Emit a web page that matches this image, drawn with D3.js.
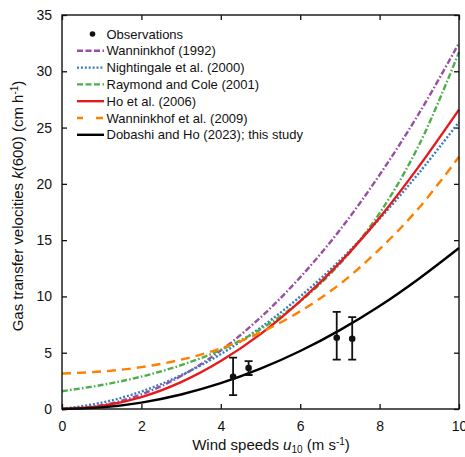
<!DOCTYPE html>
<meta charset="utf-8">
<style>
    body { margin: 0; background: white; }
    svg text {
        font-family: "Liberation Sans", Arial, Helvetica, sans-serif;
        fill: #111;
    }
</style>
<svg width="465" height="457"></svg>
<script src="https://d3js.org/d3.v7.min.js"></script>
<script>

    // wind speed grid (m s-1) for the model curves
    var windSpeeds = [0, 1, 2, 3, 4, 5, 6, 7, 8, 9, 10];

    // k(600) in cm h-1
    var wanninkhof1992 = [0, 0.33, 1.30, 2.93, 5.20, 8.13, 11.7, 15.9, 20.8, 26.3, 32.5];
    var nightingale2000 = [0, 0.56, 1.55, 3.00, 4.88, 7.22, 9.99, 13.2, 16.9, 21.0, 25.5];
    var raymondCole2001 = [1.58, 2.13, 2.88, 3.89, 5.25, 7.08, 9.56, 12.9, 17.4, 23.5, 31.7];
    var ho2006 = [0, 0.27, 1.06, 2.39, 4.26, 6.65, 9.58, 13.0, 17.0, 21.6, 26.6];
    var wanninkhof2009 = [3.15, 3.33, 3.72, 4.38, 5.38, 6.79, 8.68, 11.1, 14.2, 17.9, 22.4];
    var dobashiHo2023 = [0, 0.14, 0.57, 1.29, 2.29, 3.58, 5.15, 7.01, 9.15, 11.6, 14.3];

    // observations with error bars
    var obsWind = [4.31, 4.70, 6.92, 7.31];
    var obsK = [2.87, 3.64, 6.33, 6.24];
    var obsLow = [1.24, 3.02, 4.38, 4.38];
    var obsHigh = [4.56, 4.26, 8.62, 8.17];

    var xTicks = [0, 2, 4, 6, 8, 10];
    var yTicks = [0, 5, 10, 15, 20, 25, 30, 35];

    var series = [
        {name: "Wanninkhof (1992)", values: wanninkhof1992, color: "#984ea3", dash: "6,2.2,1.6,2.2", key: "6,2.5,6,2.5"},
        {name: "Nightingale et al. (2000)", values: nightingale2000, color: "#377eb8", dash: "2,1.9", key: "2,1.9"},
        {name: "Raymond and Cole (2001)", values: raymondCole2001, color: "#4daf4a", dash: "6,2.2,1.6,2.2", key: "6,2.5,6,2.5"},
        {name: "Ho et al. (2006)", values: ho2006, color: "#e41a1c", dash: null, key: null},
        {name: "Wanninkhof et al. (2009)", values: wanninkhof2009, color: "#ff7f00", dash: "9,6", key: "6,13,7"},
        {name: "Dobashi and Ho (2023); this study", values: dobashiHo2023, color: "#000000", dash: null, key: null}
    ];

    var svg = d3.select("svg"),
        margin = {top: 15, right: 6, bottom: 48, left: 62},
        width = +svg.attr("width") - margin.left - margin.right,
        height = +svg.attr("height") - margin.top - margin.bottom;

    var x = d3.scaleLinear().domain([0, 10]).range([0, width]),
        y = d3.scaleLinear().domain([0, 35]).range([height, 0]);

    var g = svg.append("g")
        .attr("transform", "translate(" + margin.left + "," + margin.top + ")");

    // axes, ticks pointing inward, mirrored on top and right
    function styleAxis(sel) {
        sel.select(".domain").remove();
        sel.selectAll(".tick line").attr("stroke", "#111").attr("stroke-width", 1.3);
        sel.selectAll(".tick text").style("font-size", "14px").attr("fill", "#111");
    }

    g.append("g")
        .attr("transform", "translate(0," + height + ")")
        .call(d3.axisBottom(x).tickValues(xTicks).tickSize(-5).tickPadding(12).tickFormat(d3.format("d")))
        .call(styleAxis);

    g.append("g")
        .call(d3.axisTop(x).tickValues(xTicks).tickSize(-5).tickFormat(""))
        .call(styleAxis);

    g.append("g")
        .call(d3.axisLeft(y).tickValues(yTicks).tickSize(-5).tickPadding(10).tickFormat(d3.format("d")))
        .call(styleAxis);

    g.append("g")
        .attr("transform", "translate(" + width + ",0)")
        .call(d3.axisRight(y).tickValues(yTicks).tickSize(-5).tickFormat(""))
        .call(styleAxis);

    // curves
    var line = d3.line()
        .x(function(d, i) { return x(windSpeeds[i]); })
        .y(function(d) { return y(d); })
        .curve(d3.curveCatmullRom.alpha(0.5));

    // observations
    var obs = obsWind.map(function(w, i) {
        return {u: w, k: obsK[i], lo: obsLow[i], hi: obsHigh[i]};
    });

    var obsG = g.append("g");
    obsG.selectAll(".err")
        .data(obs)
        .enter().append("path")
        .attr("fill", "none")
        .attr("stroke", "#111")
        .attr("stroke-width", 1.8)
        .attr("d", function(d) {
            var cx = x(d.u), cap = 4;
            return "M" + (cx - cap) + "," + y(d.hi) + "H" + (cx + cap) +
                   "M" + cx + "," + y(d.hi) + "V" + y(d.lo) +
                   "M" + (cx - cap) + "," + y(d.lo) + "H" + (cx + cap);
        });

    series.forEach(function(s) {
        g.append("path")
            .datum(s.values)
            .attr("fill", "none")
            .attr("stroke", s.color)
            .attr("stroke-width", 2.4)
            .attr("stroke-dasharray", s.dash)
            .attr("d", line);
    });

    obsG.raise();
    obsG.selectAll(".dot")
        .data(obs)
        .enter().append("circle")
        .attr("cx", function(d) { return x(d.u); })
        .attr("cy", function(d) { return y(d.k); })
        .attr("r", 3.3)
        .attr("fill", "#111");

    // frame
    g.append("rect")
        .attr("width", width)
        .attr("height", height)
        .attr("fill", "none")
        .attr("stroke", "#111")
        .attr("stroke-width", 1.4);

    // legend
    var legend = g.append("g").attr("transform", "translate(0,19)");
    var rowH = 16.8;

    legend.append("circle")
        .attr("cx", 30.5)
        .attr("cy", 0)
        .attr("r", 2.8)
        .attr("fill", "#111");
    legend.append("text")
        .attr("x", 44.5)
        .attr("y", 0)
        .attr("dy", "0.35em")
        .style("font-size", "13px")
        .text("Observations");

    series.forEach(function(s, i) {
        var row = legend.append("g").attr("transform", "translate(0," + (rowH * (i + 1)) + ")");
        row.append("line")
            .attr("x1", 15)
            .attr("x2", 42)
            .attr("stroke", s.color)
            .attr("stroke-width", 2.4)
            .attr("stroke-dasharray", s.key);
        row.append("text")
            .attr("x", 44.5)
            .attr("y", 0)
            .attr("dy", "0.35em")
            .style("font-size", "13px")
            .text(s.name);
    });

    // axis titles
    var xt = svg.append("text")
        .attr("x", 271)
        .attr("y", 450)
        .attr("text-anchor", "middle")
        .style("font-size", "15px");
    xt.append("tspan").text("Wind speeds ");
    xt.append("tspan").style("font-style", "italic").text("u");
    xt.append("tspan").style("font-size", "10px").attr("dy", 3).text("10");
    xt.append("tspan").attr("dy", -3).text(" (m s");
    xt.append("tspan").style("font-size", "10px").attr("dy", -5).text("-1");
    xt.append("tspan").attr("dy", 5).text(")");

    var yt = svg.append("text")
        .attr("transform", "translate(23," + (margin.top + height / 2 - 6) + ") rotate(-90)")
        .attr("text-anchor", "middle")
        .style("font-size", "15px");
    yt.append("tspan").text("Gas transfer velocities ");
    yt.append("tspan").style("font-style", "italic").text("k");
    yt.append("tspan").text("(600) (cm h");
    yt.append("tspan").style("font-size", "10px").attr("dy", -5).text("-1");
    yt.append("tspan").attr("dy", 5).text(")");

</script>
